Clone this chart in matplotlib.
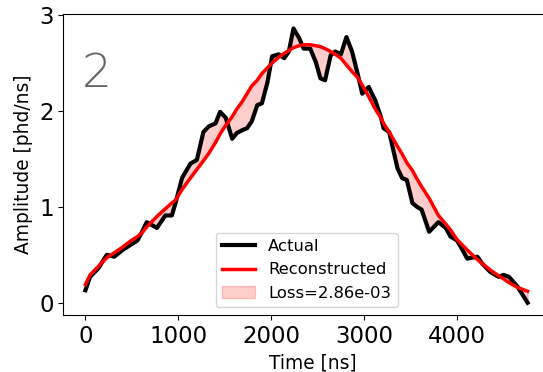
import matplotlib
matplotlib.use("Agg")
import matplotlib.pyplot as plt
import numpy as np

# tempo [ns]
tempo = [0, 50, 140, 230, 310, 400, 480, 560, 610, 660, 770, 860, 930, 970,
         1040, 1130, 1200, 1270, 1330, 1400, 1450, 1510, 1580, 1630, 1690,
         1740, 1790, 1850, 1900, 1960, 2010, 2080, 2140, 2190, 2240, 2300,
         2350, 2420, 2480, 2530, 2580, 2640, 2690, 2750, 2810, 2870, 2930,
         2980, 3050, 3120, 3180, 3210, 3270, 3360, 3410, 3460, 3520, 3570,
         3620, 3700, 3800, 3880, 3930, 4000, 4060, 4110, 4220, 4270, 4360,
         4450, 4500, 4560, 4650, 4760]

# sinal real
actual = [0.13, 0.27, 0.36, 0.50, 0.48, 0.55, 0.60, 0.65, 0.74, 0.84, 0.78,
          0.91, 0.91, 1.04, 1.30, 1.45, 1.49, 1.78, 1.84, 1.87, 1.99, 1.93,
          1.71, 1.77, 1.80, 1.82, 1.89, 2.06, 2.08, 2.30, 2.57, 2.59, 2.55,
          2.62, 2.86, 2.76, 2.65, 2.65, 2.51, 2.34, 2.32, 2.58, 2.62, 2.59,
          2.77, 2.62, 2.39, 2.18, 2.25, 2.11, 1.94, 1.82, 1.78, 1.40, 1.30,
          1.28, 1.04, 1.00, 0.97, 0.74, 0.84, 0.78, 0.69, 0.65, 0.55, 0.46,
          0.48, 0.41, 0.32, 0.27, 0.29, 0.27, 0.17, 0.00]

# reconstrução
recon = [0.19, 0.29, 0.38, 0.47, 0.52, 0.58, 0.64, 0.69, 0.73, 0.79, 0.90,
         0.98, 1.04, 1.07, 1.18, 1.30, 1.39, 1.48, 1.56, 1.67, 1.76, 1.85,
         1.94, 2.02, 2.10, 2.18, 2.26, 2.32, 2.39, 2.45, 2.50, 2.56, 2.60,
         2.63, 2.66, 2.68, 2.69, 2.69, 2.68, 2.67, 2.65, 2.62, 2.59, 2.55,
         2.48, 2.41, 2.35, 2.27, 2.15, 2.02, 1.93, 1.87, 1.78, 1.63, 1.55,
         1.46, 1.38, 1.29, 1.21, 1.09, 0.91, 0.82, 0.76, 0.66, 0.60, 0.55,
         0.45, 0.41, 0.34, 0.28, 0.25, 0.21, 0.16, 0.12]

loss = 2.86e-03
painel = "2"

t = np.array(tempo)
a = np.array(actual)
r = np.array(recon)

fig = plt.figure(figsize=(5.43, 3.72), dpi=100)
# eixo passa da borda direita (figura cortada)
ax = fig.add_axes([0.1166, 0.1524, 0.92, 0.8113])

ax.plot(t, a, color='black', lw=3, label='Actual')
ax.plot(t, r, color='red', lw=2.5, label='Reconstructed')
ax.fill_between(t, a, r, color='red', alpha=0.2, label=f'Loss={loss:.2e}')

ax.text(-36, 2.25, painel, fontsize=34, color='#666666', fontweight='light',
        ha='left', va='baseline')

ax.set_xlim(-238, 5140)
ax.set_ylim(-0.131, 3.016)
ax.set_xticks([0, 1000, 2000, 3000, 4000])
ax.set_yticks([0, 1, 2, 3])
ax.tick_params(labelsize=16.5)
ax.set_xlabel('Time [ns]', fontsize=13.4)
ax.set_ylabel('Amplitude [phd/ns]', fontsize=13.4)
ax.legend(loc='lower center', bbox_to_anchor=(0.487, 0), fontsize=11.8)

fig.savefig('out.png', dpi=100)
